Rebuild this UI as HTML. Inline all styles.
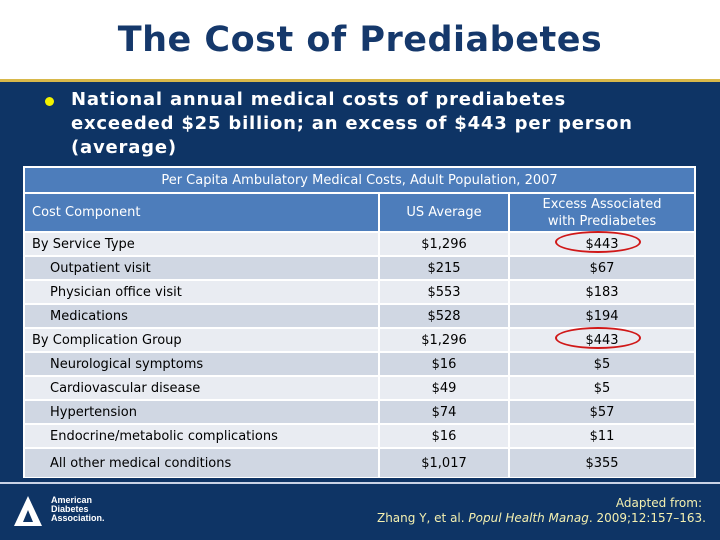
<!DOCTYPE html>
<html><head><meta charset="utf-8"><style>
body{margin:0;width:720px;height:540px;overflow:hidden;background:#0e3465;font-family:"DejaVu Sans","Liberation Sans",sans-serif;position:relative}
.abs{position:absolute}
.cell{position:absolute;display:flex;align-items:center;font-size:13px;color:#000;box-sizing:border-box}
</style></head><body>
<div class="abs" style="left:0;top:0;width:720px;height:79px;background:#fff"></div>
<div class="abs" style="left:0;top:79px;width:720px;height:3px;background:#d8b84a"></div>
<div class="abs" style="left:0;top:20px;width:720px;text-align:center;font-size:35px;font-weight:bold;color:#15386b;letter-spacing:0.5px">The Cost of Prediabetes</div>
<div class="abs" style="left:45px;top:97px;width:9px;height:9px;border-radius:50%;background:#f2f200"></div>
<div class="abs" style="left:71px;top:88px;width:590px;font-size:18px;font-weight:bold;color:#fff;line-height:24px;letter-spacing:0.8px">National annual medical costs of prediabetes<br>exceeded $25 billion; an excess of $443 per person<br>(average)</div>
<div class="abs" style="left:23px;top:166px;width:673px;height:312px;background:#fff"></div>
<div id="tbl"></div>
<div class="abs" style="left:0;top:482px;width:720px;height:2px;background:#c9d3e6"></div>
<div class="abs" style="left:14px;top:496px;width:110px;height:32px">
<svg width="40" height="32"><polygon points="14,0 28,30 0,30" fill="#fff"/><polygon points="14,14 19,26 9,26" fill="#0e3465"/></svg>
<div class="abs" style="left:37px;top:0;font-size:9px;line-height:9px;color:#fff;font-weight:bold;font-family:'Liberation Sans',sans-serif">American<br>Diabetes<br>Association.</div></div>
<div class="abs" style="right:18px;top:496px;font-size:12px;color:#f4f0b0">Adapted from:</div>
<div class="abs" style="right:14px;top:511px;font-size:12px;color:#f4f0b0">Zhang Y, et al. <i>Popul Health Manag</i>. 2009;12:157–163.</div>
<script>
const labels=["By Service Type","Outpatient visit","Physician office visit","Medications","By Complication Group","Neurological symptoms","Cardiovascular disease","Hypertension","Endocrine/metabolic complications","All other medical conditions"];
const usAvg=["$1,296","$215","$553","$528","$1,296","$16","$49","$74","$16","$1,017"];
const excess=["$443","$67","$183","$194","$443","$5","$5","$57","$11","$355"];
const indent=[0,1,1,1,0,1,1,1,1,1];
const circled=[1,0,0,0,1,0,0,0,0,0];
const t=document.getElementById('tbl');
function mk(name,l,tp,w,h,bg,txt,align,color,fs,pad){const d=document.createElement('div');d.className='cell';


d.style.cssText+=`left:${l}px;top:${tp}px;width:${w}px;height:${h}px;background:${bg};justify-content:${align};color:${color};padding-left:${pad||0}px;text-align:center;line-height:17px;${fs?'font-size:'+fs+'px;':''}`;d.innerHTML=txt;t.appendChild(d);return d;}
mk('table-title',25,168,669,24,'#4d7dbb','Per Capita Ambulatory Medical Costs, Adult Population, 2007','center','#fff',13);
mk('header-cost-component',25,194,353,37,'#4d7dbb','Cost Component','flex-start','#fff',13,7);
mk('header-us-average',380,194,128,37,'#4d7dbb','US Average','center','#fff',13);
mk('header-excess',510,194,184,37,'#4d7dbb','Excess Associated<br>with Prediabetes','center','#fff',13);
labels.forEach((lab,i)=>{const top=233+i*24;const bg=(i%2==0)?'#e9ecf2':'#d0d7e3';
const hh=i==9?28:22;
mk('row-label-'+i,25,top,353,hh,bg,lab,'flex-start','#000',13,indent[i]?25:7);
mk('us-average-'+i,380,top,128,hh,bg,usAvg[i],'center','#000',13);
const c=mk('excess-'+i,510,top,184,hh,bg,excess[i],'center','#000',13);
if(circled[i]){const o=document.createElement('div');


o.style.cssText=`position:absolute;left:45px;top:-2px;width:86px;height:22px;border:2.5px solid #d01818;border-radius:50%;box-sizing:border-box`;c.appendChild(o);}
});
</script>
</body></html>
